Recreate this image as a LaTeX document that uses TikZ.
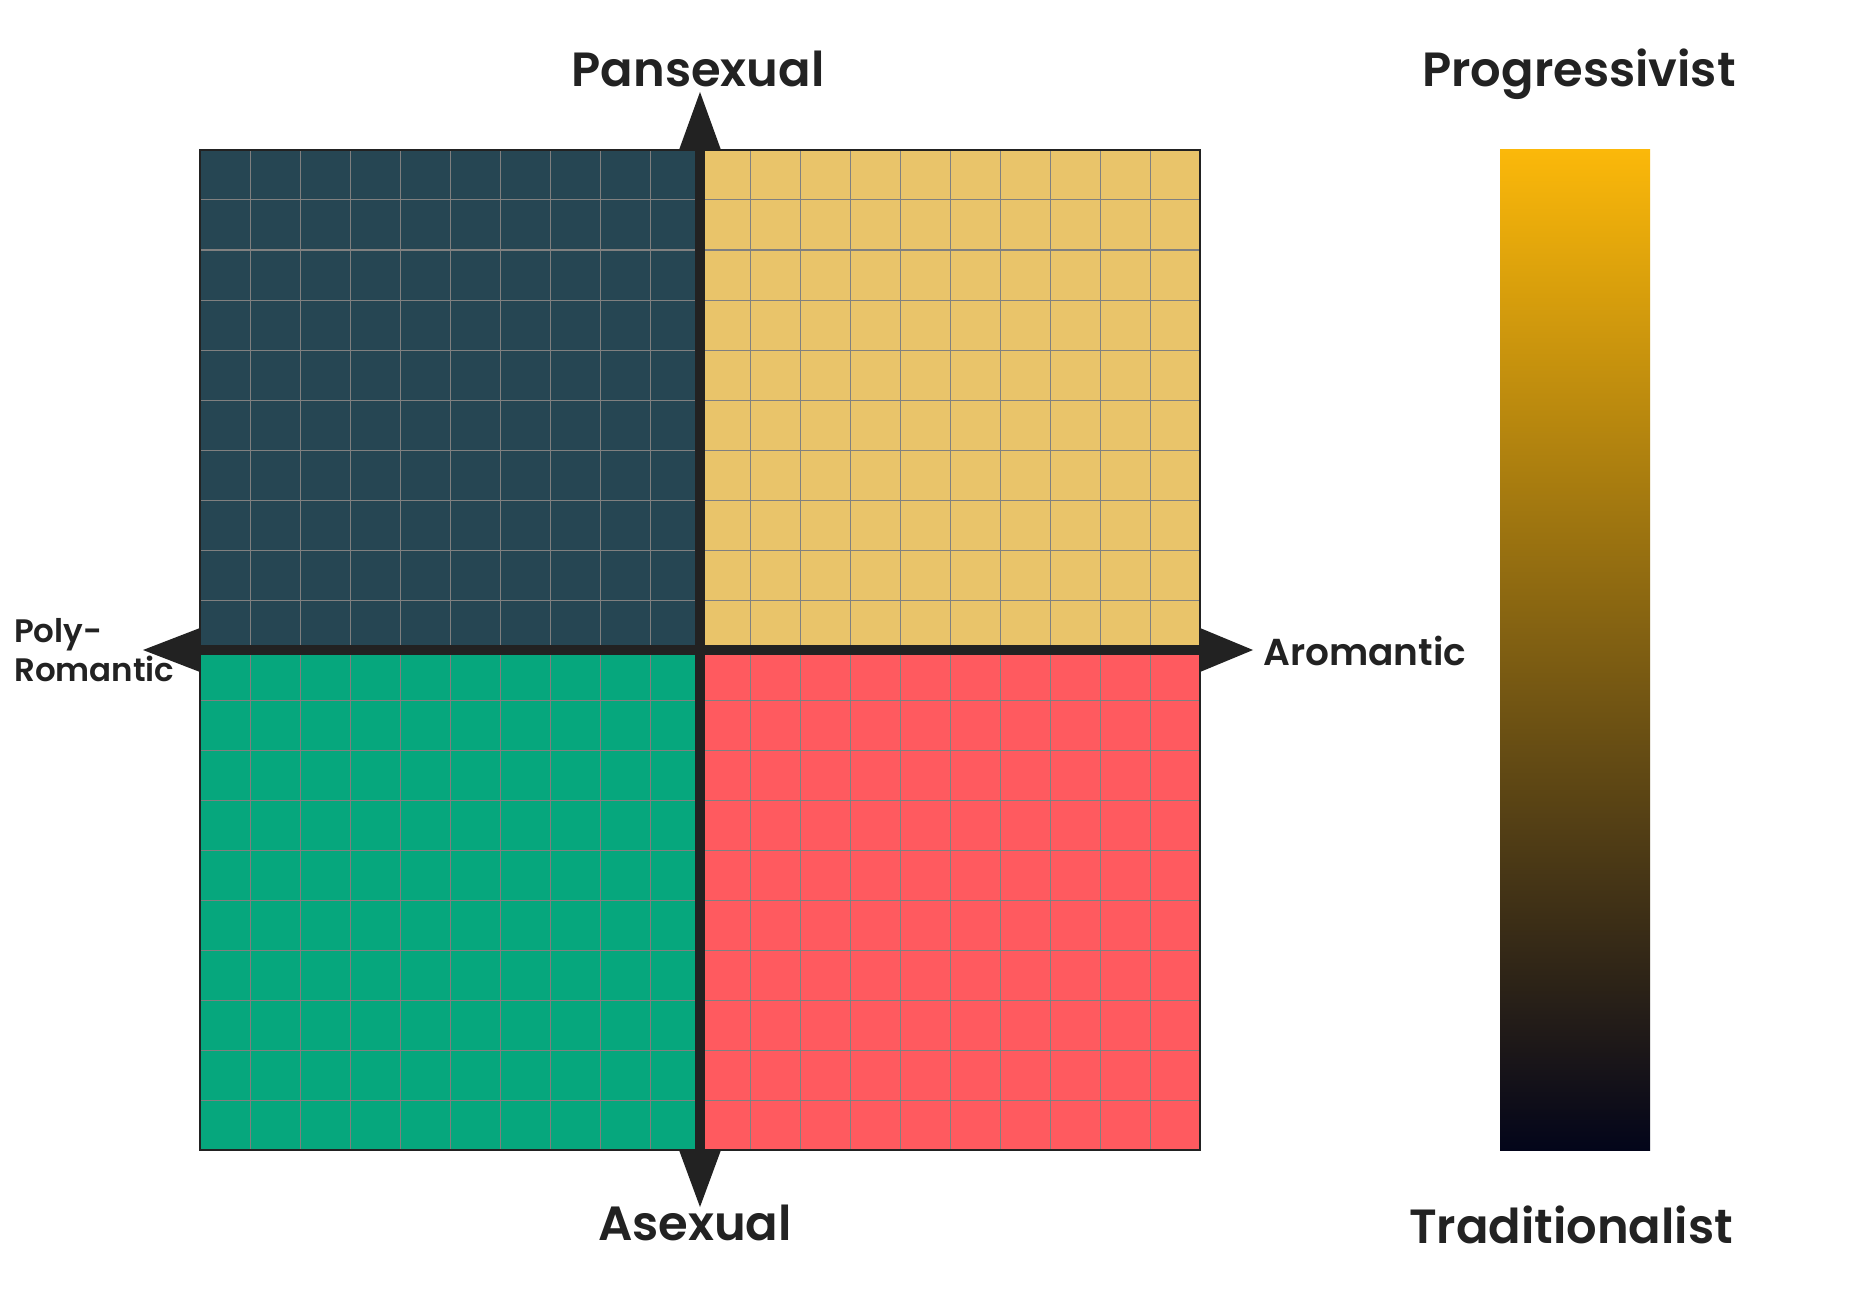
\documentclass[tikz,border=0pt]{standalone}
\usepackage{fontspec}
\setmainfont{Poppins}[BoldFont = * SemiBold]
\definecolor{qtl}{HTML}{264653}
\definecolor{qtr}{HTML}{E9C46A}
\definecolor{qbl}{HTML}{06A77D}
\definecolor{qbr}{HTML}{FF5A5F}
\definecolor{ink}{HTML}{222222}
\definecolor{gridgray}{HTML}{808080}
\definecolor{gtop}{HTML}{FBB80A}
\definecolor{gbot}{HTML}{03051A}
\begin{document}
\begin{tikzpicture}[x=1pt,y=-1pt,
  lab/.style={font=\bfseries\fontsize{48}{58}\selectfont, text=ink, inner sep=0pt},
  sidelab/.style={font=\bfseries\fontsize{32.5}{39}\selectfont, text=ink, inner sep=0pt},
  gridline/.style={draw=gridgray, line width=1pt},
  axisbar/.style={draw=ink, line width=10pt},
  tipfill/.style={fill=ink}]
\useasboundingbox (0,0) rectangle (1850,1300);
\fill[white] (0,0) rectangle (1850,1300);
% quadrants
\fill[qtl] (200,150) rectangle (700,650);
\fill[qtr] (700,150) rectangle (1200,650);
\fill[qbl] (200,650) rectangle (700,1150);
\fill[qbr] (700,650) rectangle (1200,1150);
% grid
\foreach \i in {1,...,19} {
  \draw[gridline] ({200+50*\i},150) -- ({200+50*\i},1150);
  \draw[gridline] (200,{150+50*\i}) -- (1200,{150+50*\i});
}
\draw[draw=ink, line width=1.2pt] (200,150) rectangle (1200,1150);
% axes
\coordinate (ctop) at (700,150);
\coordinate (cbot) at (700,1150);
\coordinate (cleft) at (200,650);
\coordinate (cright) at (1200,650);
\draw[axisbar] (ctop) -- (cbot);
\draw[axisbar] (cleft) -- (cright);
\fill[tipfill] (679,150) -- (700,92) -- (721,150) -- cycle;
\fill[tipfill] (679,1150) -- (700,1207) -- (721,1150) -- cycle;
\fill[tipfill] (200,628) -- (143,650) -- (200,672) -- cycle;
\fill[tipfill] (1200,628) -- (1253,650) -- (1200,672) -- cycle;
% gradient bar
\shade[top color=gtop, bottom color=gbot] (1500,150) rectangle (1650,1150);
% labels
\node[lab, anchor=base] (pan) at (698,87) {Pansexual};
\node[lab, anchor=base] (ase) at (695,1240) {Asexual};
\node[lab, anchor=base] (prog) at (1579,87) {Progressivist};
\node[lab, anchor=base] (trad) at (1571,1243) {Traditionalist};
\node[sidelab, anchor=base west] (poly) at (14,642) {Poly-};
\node[sidelab, anchor=base west] (rom) at (14,681) {Romantic};
\node[sidelab, font=\bfseries\fontsize{37.5}{44}\selectfont, anchor=base west] (aro) at (1263,665) {Aromantic};
\end{tikzpicture}
\end{document}
